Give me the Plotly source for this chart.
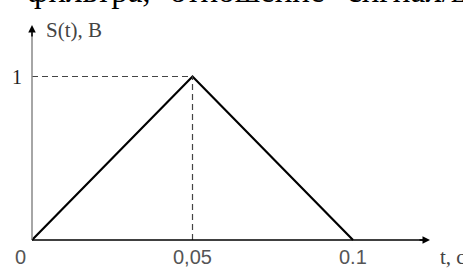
import plotly.graph_objects as go

# data
t_vals = [0, 0.05, 0.1]
s_vals = [0, 1, 0]
x_ticks = [0, 0.05, 0.1]
x_tick_labels = ["0", "0,05", "0.1"]
y_ticks = [1]
y_tick_labels = ["1"]
y_title = "S(t), В"
x_title = "t, с"
top_words = ["фильтра,", "отношение", "сигнал/шум"]

W, H = 463, 269
# pixel mapping
x0_px, x1_px = 32, 353          # t=0 and t=0.1
y0_px, y1_px = 240, 76.5        # S=0 and S=1
sx = (x1_px - x0_px) / 0.1
sy = (y0_px - y1_px) / 1.0
xr = [-x0_px / sx, (W - x0_px) / sx]
yr = [-(H - y0_px) / sy, y0_px / sy]

def px2x(p):
    return (p - x0_px) / sx

def px2y(p):
    return (y0_px - p) / sy

fig = go.Figure()

# dashed guide lines
fig.add_shape(type="line", x0=0, x1=t_vals[1], y0=s_vals[1], y1=s_vals[1],
              line=dict(color="#444", width=1.2, dash="6px,4px"))
fig.add_shape(type="line", x0=t_vals[1], x1=t_vals[1], y0=0, y1=s_vals[1],
              line=dict(color="#444", width=1.2, dash="6px,4px"))

# y axis line (gray)
fig.add_shape(type="line", x0=0, x1=0, y0=0, y1=px2y(33),
              line=dict(color="#888", width=1.5))
# x axis line
fig.add_shape(type="line", x0=0, x1=px2x(424), y0=0, y1=0,
              line=dict(color="#000", width=1.5))

fig.add_trace(go.Scatter(x=t_vals, y=s_vals, mode="lines",
                         line=dict(color="#000", width=2.2),
                         cliponaxis=False, hoverinfo="skip"))

# arrowheads
fig.add_annotation(x=0, y=px2y(25), ax=0, ay=px2y(38), xref="x", yref="y",
                   axref="x", ayref="y", showarrow=True, arrowhead=2,
                   arrowsize=1, arrowwidth=1.5, arrowcolor="#000", text="",
                   standoff=0)
fig.add_annotation(x=px2x(430), y=0, ax=px2x(418), ay=0, xref="x", yref="y",
                   axref="x", ayref="y", showarrow=True, arrowhead=2,
                   arrowsize=1, arrowwidth=1.5, arrowcolor="#000", text="",
                   standoff=0)

num_font = dict(family="Liberation Sans", size=20, color="#555")
for xv, lab in zip(x_ticks, x_tick_labels):
    xx = xv if xv != 0 else px2x(20)
    fig.add_annotation(x=xx, y=px2y(257), text=lab, showarrow=False,
                       xanchor="center", yanchor="middle", font=num_font)
for yv, lab in zip(y_ticks, y_tick_labels):
    fig.add_annotation(x=px2x(17), y=yv, text=lab, showarrow=False,
                       xanchor="center", yanchor="middle",
                       font=dict(family="Liberation Serif", size=20, color="#222"))

fig.add_annotation(x=px2x(44), y=px2y(30), text=y_title, showarrow=False,
                   xanchor="left", yanchor="middle",
                   font=dict(family="Liberation Serif", size=21, color="#444"))
fig.add_annotation(x=px2x(438), y=px2y(257), text=x_title, showarrow=False,
                   xanchor="left", yanchor="middle",
                   font=dict(family="Liberation Serif", size=21, color="#444"))

# cut-off text line at the top
for word, xp in zip(top_words, [25, 168, 345]):
    fig.add_annotation(x=xp / W, y=1 + 9 / H, xref="paper", yref="paper",
                       text=word, showarrow=False, xanchor="left",
                       yanchor="middle",
                       font=dict(family="Liberation Serif", size=33, color="#000"))

fig.update_layout(
    width=W, height=H, margin=dict(l=0, r=0, t=0, b=0),
    paper_bgcolor="white", plot_bgcolor="white", showlegend=False,
    xaxis=dict(range=xr, visible=False, fixedrange=True),
    yaxis=dict(range=yr, visible=False, fixedrange=True),
)
fig.write_html("out.html", config={"displayModeBar": False},
               post_script="document.body.style.margin='0';document.body.style.padding='0';document.body.style.overflow='hidden';")
